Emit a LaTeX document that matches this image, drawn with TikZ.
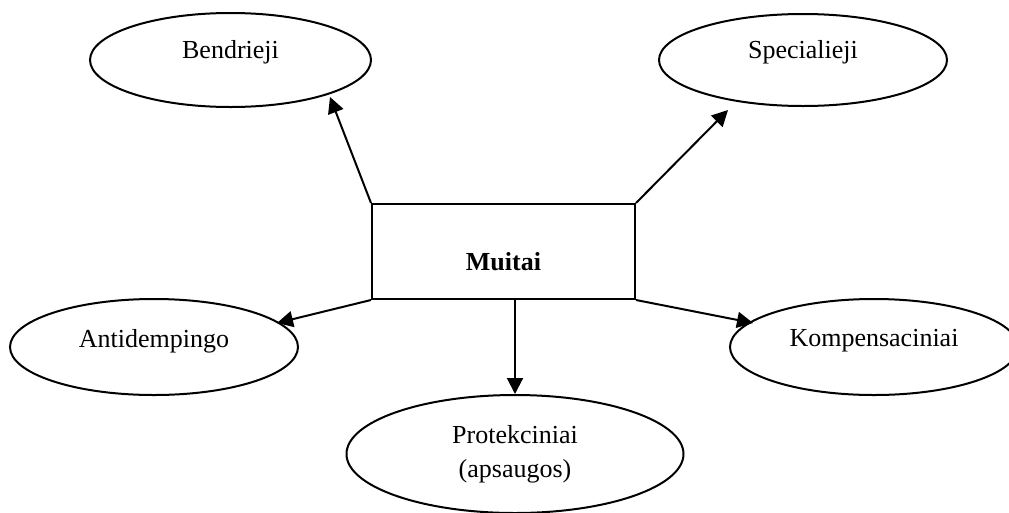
\documentclass[tikz,border=0pt]{standalone}
\usepackage{fontspec}
\setmainfont{Liberation Serif}
\usetikzlibrary{shapes.geometric,arrows.meta,calc}
\begin{document}
\begin{tikzpicture}[x=1pt,y=-1pt,
  txt/.style={font=\fontsize{26}{34}\selectfont},
  oval/.style={ellipse,draw,line width=2pt,inner sep=0pt},
  lab/.style={txt,draw=none,inner sep=0pt},
  arr/.style={line width=2pt,-{Triangle[length=16pt,width=16pt]}}]
\useasboundingbox (0,0) rectangle (1009,512);
\clip (0,0) rectangle (1009,512);
% central box
\node[draw,line width=2pt,minimum width=263pt,minimum height=95pt,inner sep=0pt,
  label={[lab,yshift=-10pt,font=\fontsize{26}{34}\selectfont\bfseries]center:Muitai}] (box) at (503.5,251.5) {};
% surrounding ovals
\node[oval,minimum width=281pt,minimum height=94pt,label={[lab,yshift=8pt]center:Bendrieji}] (bend) at (230.5,60) {};
\node[oval,minimum width=288pt,minimum height=92pt,label={[lab,yshift=8pt]center:Specialieji}] (spec) at (803,60) {};
\node[oval,minimum width=288pt,minimum height=96pt,label={[lab,yshift=6pt]center:Antidempingo}] (anti) at (154,347) {};
\node[oval,minimum width=288pt,minimum height=96pt,label={[lab,yshift=6pt]center:Kompensaciniai}] (komp) at (874,347) {};
\node[oval,minimum width=337pt,minimum height=118pt,label={[lab,align=center]center:{Protekciniai\\(apsaugos)}}] (prot) at (515,454) {};
% connectors
\draw[arr] (box.north west) -- ($(bend.center)+(99.5,37)$);
\draw[arr] (box.north east) -- ($(spec.center)+(-75,50)$);
\draw[arr] (box.south west) -- ($(anti.center)+(123,-24)$);
\draw[arr] (box.south east) -- ($(komp.center)+(-121,-24)$);
\draw[arr] (box.south -| prot.north) -- (prot.north);
\end{tikzpicture}
\end{document}
